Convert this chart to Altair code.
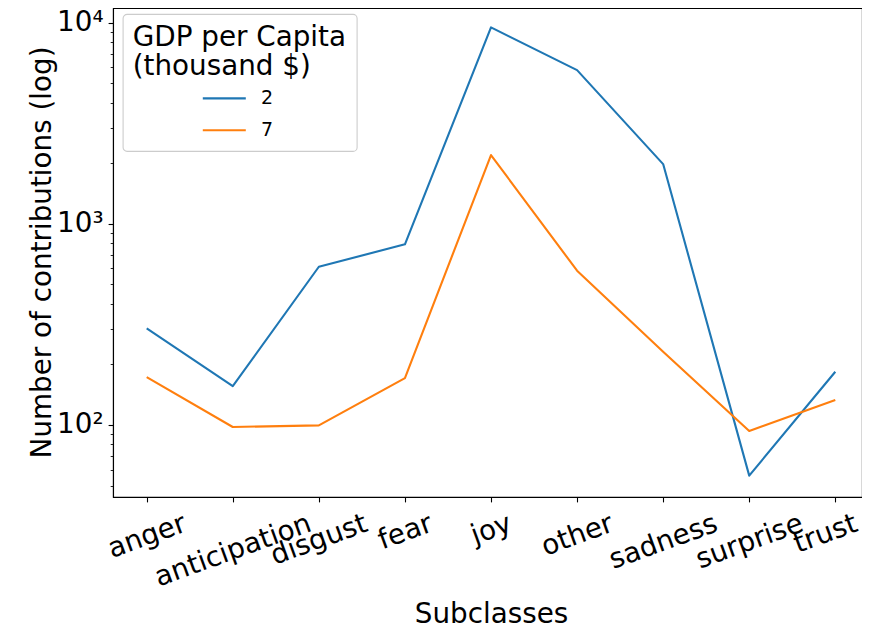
import altair as alt
import pandas as pd

categories = ["anger", "anticipation", "disgust", "fear", "joy",
              "other", "sadness", "surprise", "trust"]
gdp_2 = [302, 156, 612, 791, 9480, 5810, 1982, 56, 184]
gdp_7 = [173, 97.7, 99.6, 171, 2198, 585, 231, 93.4, 133]
series_labels = ["2", "7"]
series_colors = ["#1f77b4", "#ff7f0e"]
y_major = [100, 1000, 10000]
y_minor = [50, 60, 70, 80, 90, 200, 300, 400, 500, 600, 700, 800, 900,
           2000, 3000, 4000, 5000, 6000, 7000, 8000, 9000]

rows = []
for lab, vals in zip(series_labels, [gdp_2, gdp_7]):
    for c, v in zip(categories, vals):
        rows.append({"Subclasses": c, "value": v, "gdp": lab})
df = pd.DataFrame(rows)

FONT = "DejaVu Sans"
FS = 27.8

# per-label padding to mimic matplotlib's rotated-label placement
label_pad = {"anger": 34.4, "anticipation": 48.7, "disgust": 37.8, "fear": 30.1,
             "joy": 27.6, "other": 33.3, "sadness": 39.9, "surprise": 39.7,
             "trust": 31.8}
pad_conditions = [{"test": f"datum.value == '{k}'", "value": v} for k, v in label_pad.items()]

major_test = "datum.value == 100 || datum.value == 1000 || datum.value == 10000"

x_axis = alt.Axis(
    title="Subclasses", labelAngle=340, labelAlign="center", labelBaseline="middle",
    labelFontSize=FS, labelFont=FONT, labelColor="black", labelOverlap=False,
    labelBound=False, labelFlush=False,
    labelPadding={"condition": pad_conditions, "value": 30},
    labelOffset={"condition": {"test": "datum.value == 'trust'", "value": -10}, "value": 0},
    tickSize=4.9, tickWidth=1.1, tickColor="black",
    domainColor="black", domainWidth=1.1, grid=False,
    titleFontSize=FS, titleFont=FONT, titleFontWeight="normal", titleColor="black",
    titleBaseline="alphabetic", titleY=125, titleX=378,
)

y_axis = alt.Axis(
    title="Number of contributions (log)",
    values=sorted(y_major + y_minor),
    labelExpr="datum.value == 100 ? '10²' : datum.value == 1000 ? '10³' : datum.value == 10000 ? '10⁴' : ''",
    labelFontSize=FS, labelFont=FONT, labelColor="black", labelPadding=5,
    labelOverlap=False, labelBound=False, labelFlush=False,
    tickSize={"condition": {"test": major_test, "value": 4.9}, "value": 2.8},
    tickWidth={"condition": {"test": major_test, "value": 1.1}, "value": 0.85},
    tickColor="black", domainColor="black", domainWidth=1.1, grid=False,
    titleFontSize=FS, titleFont=FONT, titleFontWeight="normal", titleColor="black",
    titleAngle=270, titleBaseline="alphabetic", titleAlign="center",
    titleX=-62.6, titleY=243.9,
)

legend = alt.Legend(
    title=["GDP per Capita", "(thousand $)"],
    orient="none", legendX=9.7, legendY=6, direction="vertical",
    padding=10, fillColor="white", strokeColor="#cccccc",
    cornerRadius=4,
    titleFont=FONT, titleFontSize=FS, titleFontWeight="normal", titleColor="black",
    titleLineHeight=29.3, titlePadding=5.3, titleAnchor="start", titleLimit=0,
    labelFont=FONT, labelFontSize=19, labelColor="black",
    symbolType="M-2,0H2", symbolSize=462.25, symbolStrokeWidth=2.1,
    symbolOffset=79.6, labelOffset=24.7, rowPadding=9.8,
)

chart = alt.Chart(df).mark_line(strokeWidth=2.1, strokeJoin="round").encode(
    x=alt.X("Subclasses:N", sort=categories, axis=x_axis,
            scale=alt.Scale(type="point", range=[33.7, 722.3], padding=0)),
    y=alt.Y("value:Q", axis=y_axis,
            scale=alt.Scale(type="log", domain=[43.85, 11834], nice=False, zero=False)),
    color=alt.Color("gdp:N", legend=legend,
                    scale=alt.Scale(domain=series_labels, range=series_colors)),
).properties(
    width=749, height=489,
    autosize=alt.AutoSizeParams(type="none"),
    padding={"left": 105, "top": 0, "right": 0, "bottom": 132},
).configure(font=FONT).configure_view(
    stroke="black", strokeWidth=1.1
).configure_legend(strokeWidth=1.1)

chart.save("out.html", embed_options={"renderer": "svg", "actions": False})
